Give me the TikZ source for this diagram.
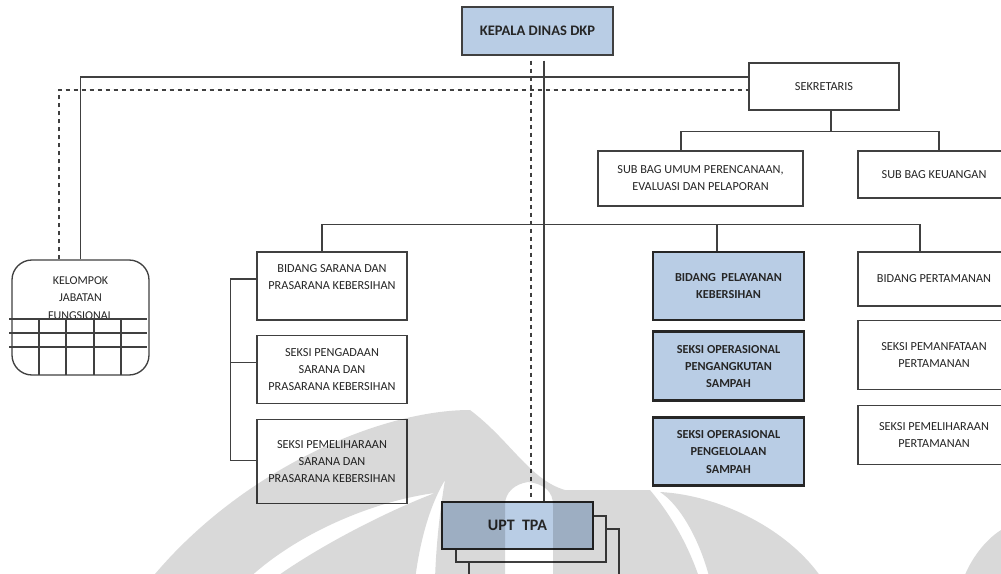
\documentclass[tikz,border=0pt]{standalone}
\usepackage{fontspec}
\setmainfont{Carlito}
\usetikzlibrary{positioning}
\definecolor{dkpblue}{RGB}{185,205,229}
\definecolor{lineclr}{RGB}{64,64,64}

\tikzset{
  unit/.style={draw=lineclr, line width=1pt, fill=white, inner sep=0pt, align=center,
    text=black!85, font=\fontsize{9.2}{12.75}\selectfont},
  bluebox/.style={unit, fill=dkpblue, draw=black!85, line width=2.2pt,
    font=\fontsize{9.2}{13}\selectfont\bfseries},
  conn/.style={draw=lineclr, line width=1pt},
  dashconn/.style={conn, dash pattern=on 3.5pt off 2.5pt},
}

\begin{document}
\begin{tikzpicture}[x=0.75pt,y=-0.75pt]
			%%%%% frame %%%%%
			\useasboundingbox (0,0) rectangle (1001,574);
			\clip (0,0) rectangle (1001,574);
			\fill[white] (0,0) rectangle (1001,574);

			%%%%% top %%%%%
			\node[unit, fill=dkpblue, minimum width=113.25pt, minimum height=36pt,
			  font=\fontsize{10.9}{13}\selectfont\bfseries] (kepala) at (537.5,31) {KEPALA DINAS DKP};
			\node[unit, minimum width=112.5pt, minimum height=35.25pt] (sekretaris) at (824,86.5) {SEKRETARIS};
			\node[unit, minimum width=153.75pt, minimum height=41.25pt] (subumum) at (700.5,178.5)
			  {SUB BAG UMUM PERENCANAAN,\\EVALUASI DAN PELAPORAN};
			\node[unit, minimum width=114pt, minimum height=35.25pt] (subkeu) at (934,174.5) {SUB BAG KEUANGAN};

			%%%%% kelompok jabatan %%%%%
			\node[draw=lineclr, line width=1pt, rounded corners=15pt, minimum width=102.75pt,
			  minimum height=86.25pt] (kelompok) at (80.5,317.5) {};
			\node[align=center, inner sep=0pt, text=black!85, font=\fontsize{9}{13}\selectfont]
			  (kelompoktext) at (80.5,298) {KELOMPOK\\JABATAN\\FUNGSIONAL};
			\foreach \y in {319,333,347}
			  \draw[conn] (9,\y) -- (147,\y);
			\foreach \x in {39,66,94,121}
			  \draw[conn] (\x,319) -- (\x,375);

			%%%%% bidang sarana %%%%%
			\node[unit, minimum width=112.5pt, minimum height=51pt] (sarana) at (332,286)
			  {BIDANG SARANA DAN\\PRASARANA KEBERSIHAN\\\mbox{}};
			\node[unit, minimum width=112.5pt, minimum height=51pt, below=10.5pt of sarana] (pengadaan)
			  {SEKSI PENGADAAN\\SARANA DAN\\PRASARANA KEBERSIHAN};
			\node[unit, minimum width=112.5pt, minimum height=63pt, below=11.25pt of pengadaan] (pemsarana)
			  {SEKSI PEMELIHARAAN\\SARANA DAN\\PRASARANA KEBERSIHAN};

			%%%%% bidang pelayanan %%%%%
			\node[bluebox, minimum width=113.25pt, minimum height=51pt] (pelayanan) at (728.5,286)
			  {BIDANG\ \ PELAYANAN\\KEBERSIHAN};
			\node[bluebox, minimum width=113.25pt, minimum height=51.75pt, below=6.75pt of pelayanan] (angkut)
			  {SEKSI OPERASIONAL\\PENGANGKUTAN\\SAMPAH};
			\node[bluebox, minimum width=113.25pt, minimum height=51pt, below=10.5pt of angkut] (kelola)
			  {SEKSI OPERASIONAL\\PENGELOLAAN\\SAMPAH};

			%%%%% bidang pertamanan %%%%%
			\node[unit, minimum width=114pt, minimum height=40.5pt] (pertamanan) at (934,279) {BIDANG PERTAMANAN};
			\node[unit, minimum width=114pt, minimum height=51.75pt, below=9.75pt of pertamanan] (manfaat)
			  {SEKSI PEMANFATAAN\\PERTAMANAN};
			\node[unit, minimum width=114pt, minimum height=44.25pt, below=11.25pt of manfaat] (pelihara)
			  {SEKSI PEMELIHARAAN\\PERTAMANAN};

			%%%%% upt %%%%%
			\node[unit, minimum width=112.5pt, minimum height=45.75pt] (upt3) at (544,559.5) {};
			\node[unit, minimum width=112.5pt, minimum height=34.5pt] (upt2) at (531,539) {};
			\node[bluebox, minimum width=113.25pt, minimum height=35.25pt,
			  font=\fontsize{12}{14}\selectfont\bfseries] (upt) at (517.5,525.5) {UPT\ \ TPA};

			%%%%% connectors %%%%%
			\draw[conn] ([shift={(6.5,5)}]kepala.south) -- ([shift={(26.5,0)}]upt.north);
			\draw[dashconn] ([shift={(-6.5,5)}]kepala.south) -- ([shift={(13.5,0)}]upt.north);
			\draw[conn] (kelompok.north) |- ([shift={(0,-9.5)}]sekretaris.west);
			\draw[dashconn] ([shift={(-21.5,0)}]kelompok.north) |- ([shift={(0,3.5)}]sekretaris.west);
			\draw[conn] ([shift={(7,0)}]sekretaris.south) -- ++(0,21) -| ([shift={(-19.5,0)}]subumum.north);
			\draw[conn] ([shift={(7,21)}]sekretaris.south) -| ([shift={(5,0)}]subkeu.north);
			\draw[conn] ([shift={(-10,0)}]sarana.north) -- ++(0,-27) -| ([shift={(-14,0)}]pertamanan.north);
			\draw[conn] ([shift={(-11.5,0)}]pelayanan.north) -- ++(0,-27);
			\draw[conn] ([shift={(0,-7)}]sarana.west) -- ++(-26,0) |- ([shift={(0,-1)}]pemsarana.west);
			\draw[conn] ([shift={(0,-7)}]pengadaan.west) -- ++(-26,0);

			%%%%% watermark %%%%%
			\fill[black, opacity=0.15, even odd rule]
			  (150,580) .. controls (240,470) and (380,410) .. (470,410)
			    .. controls (510,440) and (530,480) .. (565,490) -- (650,490)
			    .. controls (675,520) and (690,550) .. (700,580) -- cycle
			  (247,580) .. controls (300,530) and (380,500) .. (435,493)
			    .. controls (390,510) and (320,545) .. (272,580) -- cycle
			  (415,580) .. controls (420,540) and (430,505) .. (445,480)
			    .. controls (440,510) and (436,545) .. (435,580) -- cycle
			  (505,580) -- (505,505) .. controls (505,492) and (515,484) .. (528,482)
			    .. controls (545,484) and (553,492) .. (553,505) -- (553,580) -- cycle
			  (710,580) .. controls (700,540) and (680,505) .. (660,492)
			    .. controls (720,495) and (790,530) .. (823,580) -- cycle
			  (963,580) .. controls (970,560) and (985,540) .. (1001,530) -- (1001,580) -- cycle;
\end{tikzpicture}
\end{document}
